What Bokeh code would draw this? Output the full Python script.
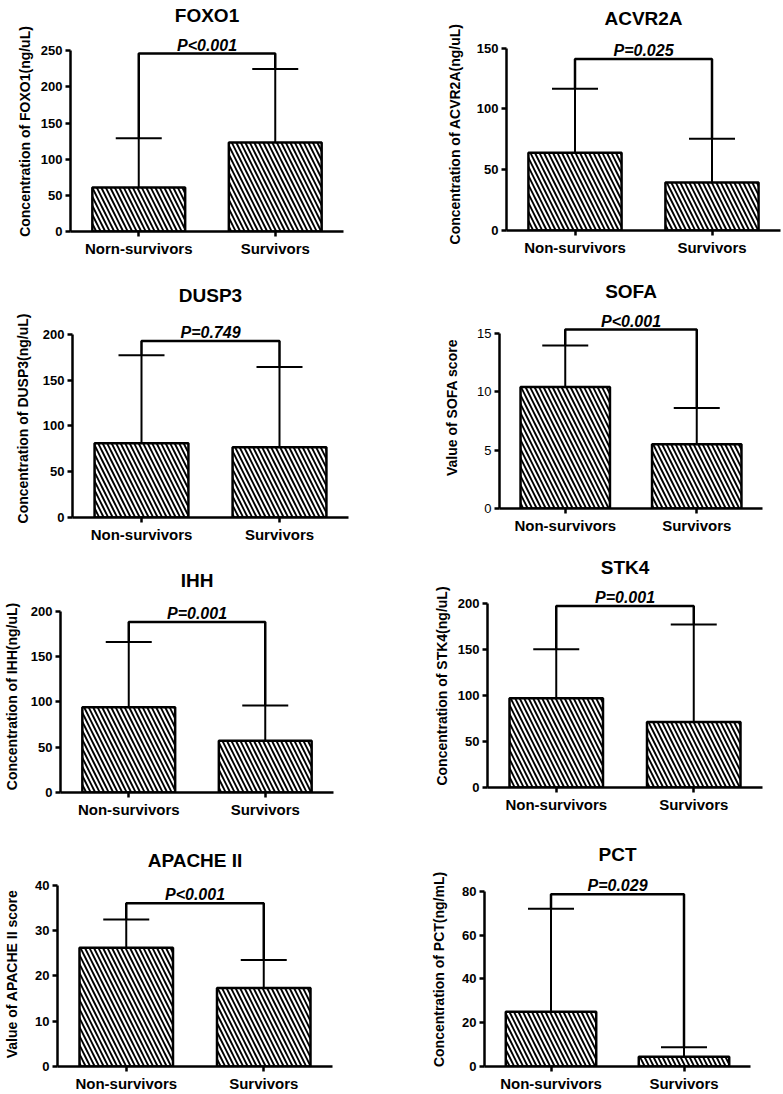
from bokeh.plotting import figure
from bokeh.models import FactorRange, Range1d, FixedTicker, Whisker, TeeHead, ColumnDataSource, Label
from bokeh.layouts import row, column
from bokeh.embed import file_html
from bokeh.resources import INLINE

# ---------------- data ----------------
titles = ["FOXO1", "ACVR2A", "DUSP3", "SOFA", "IHH", "STK4", "APACHE II", "PCT"]
y_labels = ["Concentration of FOXO1(ng/uL)", "Concentration of ACVR2A(ng/uL)",
            "Concentration of DUSP3(ng/uL)", "Value of SOFA score",
            "Concentration of IHH(ng/uL)", "Concentration of STK4(ng/uL)",
            "Value of APACHE II score", "Concentration of PCT(ng/mL)"]
group_labels = [["Norn-survivors", "Survivors"]] + [["Non-survivors", "Survivors"]] * 7
nonsurv_mean = [61, 64, 81, 10.4, 94, 97, 26.2, 25]
nonsurv_err = [129, 116.5, 177, 13.95, 165.8, 150.3, 32.4, 72]
surv_mean = [123, 39.5, 76.7, 5.5, 57, 71.3, 17.3, 4.5]
surv_err = [224.7, 75.5, 164.3, 8.6, 96, 177.2, 23.5, 8.8]
bracket_y = [246, 141, 192.7, 15.3, 188, 197.4, 36, 78.6]
p_texts = ["P<0.001", "P=0.025", "P=0.749", "P<0.001", "P=0.001", "P=0.001", "P<0.001", "P=0.029"]
y_max = [250, 150, 200, 15, 200, 200, 40, 80]
y_step = [50, 50, 50, 5, 50, 50, 10, 20]

# ---------------- layout / style (page pixels) ----------------
FONT = "Liberation Sans"
COL_X = [0, 388]
COL_W = [388, 395]
# (axis_x, x_right, fig_top, frame_top, y0_px, ymax_px, fig_bottom, title_standoff, label_standoff,
#  bold_ticks, title_valign)
geom = [
    (70, 343, 0, 30, 231, 49.3, 262, 8, 5, True, "top"),
    (506, 780, 0, 36, 230, 46.7, 262, 14, 11, True, "top"),
    (72, 348, 262, 319, 517, 333.7, 545, 27, 9, True, "bottom"),
    (499, 762, 262, 306, 508, 332.6, 540, 9, 14, False, "bottom"),
    (60, 333, 545, 600, 794, 610.7, 820, 15, 8, True, "top"),
    (487, 762, 540, 584, 787, 603.0, 820, 13, 5, True, "bottom"),
    (57, 332, 820, 881, 1068, 884.6, 1094, 21, 12, True, "bottom"),
    (484, 750, 820, 872, 1068, 891.0, 1094, 16, 12, True, "bottom"),
]


def make_panel(i):
    (ax_x, x_right, fig_top, frame_top, y0, ymax_px, fig_bottom,
     tstand, lstand, bold_ticks, tvalign) = geom[i]
    c = i % 2
    mbl = ax_x - COL_X[c]
    fw = x_right - ax_x
    mbr = COL_W[c] - mbl - fw
    mbt = frame_top - fig_top
    fh = y0 - frame_top
    mbb = fig_bottom - y0
    y_end = y_max[i] * fh / (y0 - ymax_px)
    cats = group_labels[i]
    p = figure(x_range=FactorRange(factors=cats, range_padding=0, factor_padding=0),
               y_range=Range1d(0, y_end),
               width=COL_W[c], height=fig_bottom - fig_top,
               min_border_left=mbl, min_border_right=mbr,
               min_border_top=mbt, min_border_bottom=mbb,
               title=titles[i], output_backend="svg", toolbar_location=None)
    p.outline_line_color = None
    p.xgrid.grid_line_color = None
    p.ygrid.grid_line_color = None
    p.background_fill_color = "white"

    p.title.align = "center"
    p.title.vertical_align = tvalign
    p.title.text_font = FONT
    p.title.text_font_size = "19px"
    p.title.text_font_style = "bold"
    p.title.text_color = "black"
    p.title.standoff = tstand

    src = ColumnDataSource(dict(x=cats, top=[nonsurv_mean[i], surv_mean[i]],
                                upper=[nonsurv_err[i], surv_err[i]]))
    p.vbar(x="x", top="top", width=0.68, source=src, fill_color="white",
           line_color="black", line_width=2.5, hatch_pattern="\\", hatch_scale=9,
           hatch_weight=1.9, hatch_color="black")
    p.add_layout(Whisker(base="x", lower="top", upper="upper", source=src, dimension="height",
                         upper_head=TeeHead(size=46, line_width=2, line_color="black"),
                         lower_head=None, line_width=2, line_color="black", level="overlay"))
    p.line(x=[cats[0], cats[0], cats[1], cats[1]],
           y=[nonsurv_err[i], bracket_y[i], bracket_y[i], surv_err[i]],
           line_color="black", line_width=2.5)
    p.add_layout(Label(x=1.0, y=bracket_y[i], y_offset=0, text=p_texts[i], text_align="center",
                       text_baseline="bottom", text_font=FONT, text_font_size="16px",
                       text_font_style="bold italic", text_color="black"))

    for ax in (p.xaxis[0], p.yaxis[0]):
        ax.axis_line_width = 2.5
        ax.axis_line_color = "black"
        ax.major_tick_line_width = 2.5
        ax.major_tick_line_color = "black"
        ax.major_tick_out = 5
        ax.major_tick_in = 0
        ax.minor_tick_line_color = None
        ax.major_label_standoff = 3
        ax.major_label_text_font = FONT
        ax.major_label_text_color = "black"

    p.xaxis.major_label_text_font_size = "15px"
    p.xaxis.major_label_text_font_style = "bold"

    p.yaxis.ticker = FixedTicker(ticks=list(range(0, y_max[i] + 1, y_step[i])))
    p.yaxis.bounds = (0, y_max[i])
    p.yaxis.major_label_text_font_size = "13px"
    p.yaxis.major_label_text_font_style = "bold" if bold_ticks else "normal"
    p.yaxis.axis_label = y_labels[i]
    p.yaxis.axis_label_text_font = FONT
    p.yaxis.axis_label_text_font_size = "14px"
    p.yaxis.axis_label_text_font_style = "bold"
    p.yaxis.axis_label_text_color = "black"
    p.yaxis.axis_label_standoff = lstand
    return p


panels = [make_panel(i) for i in range(8)]
# each panel in its own row so that the columns do not align the plot frames
left = column(*[row(p) for p in panels[0::2]])
right = column(*[row(p) for p in panels[1::2]])
layout = row(left, right)

open("out.html", "w").write(file_html(layout, INLINE))
